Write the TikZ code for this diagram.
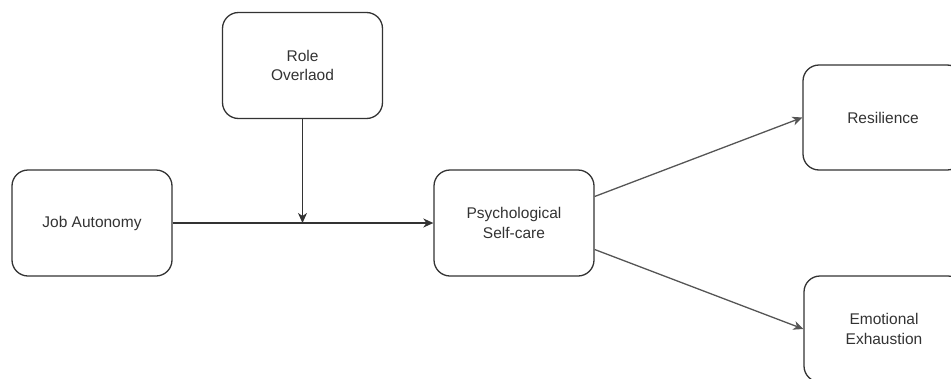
\documentclass[tikz,border=0pt]{standalone}
\usepackage{fontspec}
\setmainfont{Liberation Sans}
\usetikzlibrary{arrows.meta}
\definecolor{edge}{HTML}{333333}
\definecolor{txt}{HTML}{333333}
\definecolor{lnk}{HTML}{555555}
\begin{document}
\begin{tikzpicture}[x=1pt,y=-1pt,
  box/.style={draw=edge, line width=1.3pt, rounded corners=16pt, fill=white,
    minimum width=160pt, minimum height=106pt, inner sep=0pt, align=center,
    text=txt, font=\fontsize{15.5}{19.5}\selectfont},
  conn/.style={draw=edge, line width=1.3pt, -{Stealth[length=10pt,width=9pt,inset=3pt]}},
  lconn/.style={draw=lnk, line width=1.3pt, -{Stealth[length=10pt,width=9pt,inset=3pt]}}]
\useasboundingbox (0,0) rectangle (951,378);
\clip (0,0) rectangle (951,378);
\node[box] (role) at (302.5,65.5) {Role\\Overlaod};
\node[box] (job) at (92,223) {Job Autonomy};
\node[box] (psy) at (514,223) {Psychological\\Self-care};
\node[box, minimum height=105pt] (res) at (883,117.5) {Resilience};
\node[box] (emo) at (884,329) {Emotional\\Exhaustion};
\coordinate (j) at (role.south |- job.east);
\draw[conn] (job.east) -- (psy.west);
\draw[conn] (role.south) -- (j);
\draw[lconn] ([yshift=26.5pt]psy.east) -- (res.west);
\draw[lconn] ([yshift=-26.5pt]psy.east) -- (emo.west);
\end{tikzpicture}
\end{document}
